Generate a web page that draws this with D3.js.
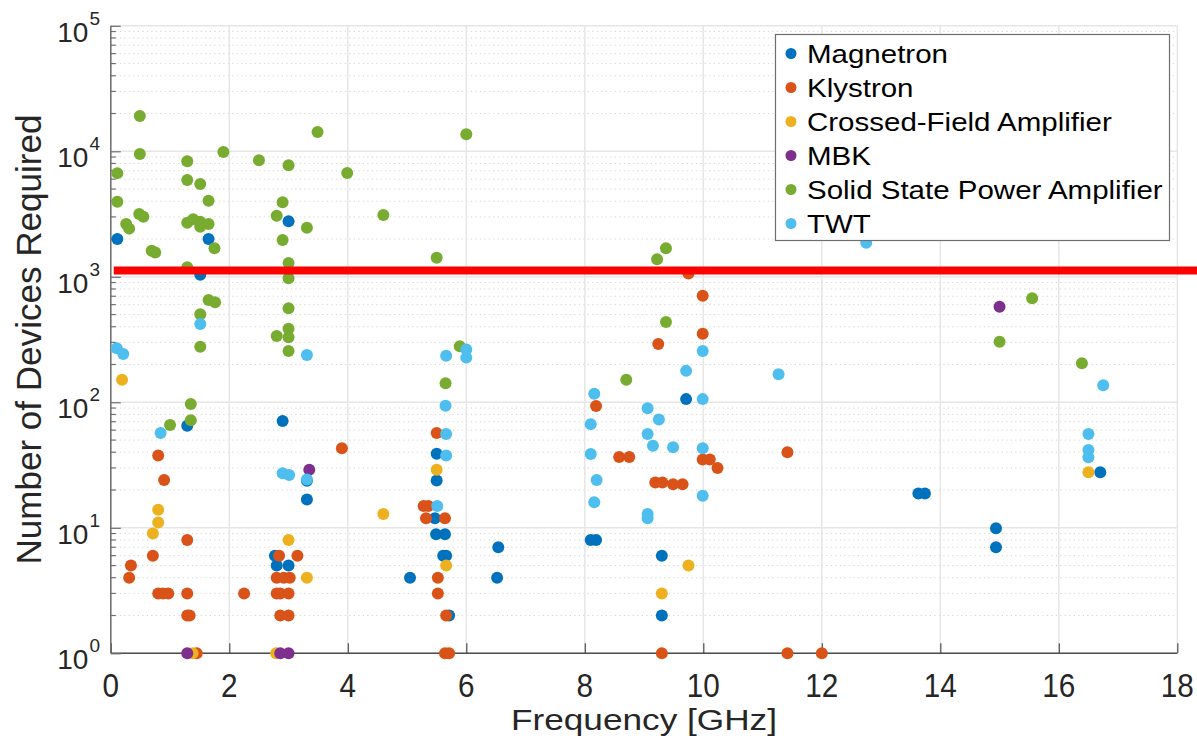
<!DOCTYPE html>
<html>
<head>
<meta charset="utf-8">
<script src="https://cdn.jsdelivr.net/npm/d3@7"></script>
<style>
  html, body { margin: 0; padding: 0; background: #fff; }
  svg { display: block; }
  text { font-family: "Liberation Sans", Arial, Helvetica, sans-serif; fill: #262626; }
</style>
</head>
<body>
<svg id="chart" width="1197" height="739"></svg>
<script>
// ---- Data (frequency GHz, number of devices) ----
const seriesNames = ["Magnetron", "Klystron", "Crossed-Field Amplifier", "MBK", "Solid State Power Amplifier", "TWT"];
const seriesColors = ["#0072BD", "#D95319", "#EDB120", "#7E2F8E", "#77AC30", "#4DBEEE"];

const magnetron = [
  [0.11,2000],[1.65,2000],[3.0,2770],[1.51,1040],[1.29,65],[2.90,71],[3.31,23.7],[3.31,16.8],
  [2.77,6],[2.80,5],[3.0,5],[5.50,38.9],[5.50,23.8],[5.47,11.9],[5.49,8.9],[5.64,8.9],
  [6.54,7.0],[5.61,6],[5.66,6],[5.05,4],[6.52,4],[5.71,2],[8.10,8],[8.19,8],[9.71,106],
  [9.30,6],[9.30,2],[16.70,27.7],[13.63,18.8],[13.74,18.8],[14.94,9.9],[14.94,7.0]
];
const klystron = [
  [0.80,37.6],[0.90,24],[3.90,43],[1.29,8],[0.71,6],[0.34,5],[0.31,4],[0.80,3],[0.88,3],[0.97,3],
  [1.29,3],[1.29,2],[1.33,2],[1.45,1],[2.84,6],[3.15,6],[2.80,4],[2.92,4],[3.02,4],
  [2.80,3],[2.86,3],[3.0,3],[2.25,3],[2.86,2],[3.0,2],[9.75,1060],[9.99,707],[9.99,352],
  [9.24,292],[8.19,93.5],[5.50,57],[5.28,14.9],[5.36,14.9],[5.32,11.9],[5.64,11.9],[5.52,4],
  [5.52,3],[5.66,2],[5.64,1],[5.71,1],[8.58,36.7],[8.75,36.7],[9.99,35],[10.11,35],[10.24,30],
  [9.19,23],[9.31,23],[9.49,22.2],[9.65,22.2],[9.30,1],[11.42,40],[11.42,1],[12.0,1]
];
const crossedField = [
  [0.19,151],[4.60,12.9],[0.80,13.9],[0.80,11],[0.71,9],[3.0,8],[3.31,4],[5.50,29],[5.66,5],
  [9.75,5],[9.30,3],[16.5,27.7],[1.38,1],[2.79,1]
];
const mbk = [
  [3.35,29],[1.29,1],[2.86,1],[3.0,1],[15.0,578]
];
const sspa = [
  [0.49,19100],[0.49,9500],[0.11,6700],[0.11,3960],[0.48,3160],[0.55,3010],[0.26,2630],[0.31,2420],
  [0.69,1610],[0.75,1560],[1.29,8320],[1.29,5900],[1.51,5490],[1.65,4040],[1.29,2700],[1.39,2870],
  [1.51,2750],[1.51,2510],[1.65,2640],[1.75,1690],[1.29,1190],[1.65,653],[1.76,626],[1.51,502],
  [1.90,9860],[2.50,8480],[3.00,7730],[3.49,14260],[3.99,6720],[4.60,3110],[2.90,3920],[2.80,3070],
  [3.31,2460],[2.90,1963],[3.00,1290],[3.00,973],[3.00,561],[3.00,386],[2.80,338],[3.00,330],
  [3.00,256],[1.51,277],[1.35,97],[1.35,72],[1.00,66],[6.00,13650],[5.50,1420],[9.37,1690],
  [9.22,1380],[9.37,436],[8.70,151],[5.89,280],[5.65,142],[15.55,674],[15.0,304],[16.39,205]
];
const twt = [
  [0.10,269],[0.21,243],[1.51,421],[3.31,238],[0.84,57],[2.90,27.2],[3.01,26.3],[3.31,24.3],
  [5.66,235],[6.0,263],[6.0,227],[5.65,94],[5.66,56],[5.66,37.6],[5.51,14.9],[8.16,117],
  [8.10,67],[8.10,38.7],[8.20,24],[8.16,16],[9.06,89.6],[9.25,73],[9.06,56],[9.15,45],
  [9.49,43.8],[9.99,43],[9.99,18],[9.06,12.9],[9.06,11.9],[9.71,178],[9.99,256],[9.99,106],
  [11.27,167],[12.75,1870],[16.75,137],[16.5,56],[16.5,41.7],[16.5,36.5]
];
const allSeries = [magnetron, klystron, crossedField, mbk, sspa, twt];

const xTicks = [0,2,4,6,8,10,12,14,16,18];
const yDecades = [0,1,2,3,4,5];
const limitValue = 1120;          // red threshold line
const limitRange = [0.05, 18.35]; // extent of threshold line (GHz)

// ---- Layout ----
const svg = d3.select("#chart");
const x = d3.scaleLinear().domain([0, 18]).range([110.8, 1177.3]);
const y = d3.scaleLog().domain([1, 1e5]).range([653.3, 25.8]);

const grid = svg.append("g");
// minor y grid (dotted)
const minorVals = [];
yDecades.slice(0, -1).forEach(d => { for (let m = 2; m <= 9; m++) minorVals.push(m * Math.pow(10, d)); });
grid.selectAll(".minor").data(minorVals).enter().append("line")
  .attr("x1", x(0)).attr("x2", x(18))
  .attr("y1", d => y(d)).attr("y2", d => y(d))
  .attr("stroke", "#d4d4d4").attr("stroke-width", 1).attr("stroke-dasharray", "1.2,3.3");
// major grid
grid.selectAll(".majy").data(yDecades.map(d => Math.pow(10, d))).enter().append("line")
  .attr("x1", x(0)).attr("x2", x(18))
  .attr("y1", d => y(d)).attr("y2", d => y(d))
  .attr("stroke", "#e6e6e6").attr("stroke-width", 1.5);
grid.selectAll(".majx").data(xTicks).enter().append("line")
  .attr("x1", d => x(d)).attr("x2", d => x(d))
  .attr("y1", y(1)).attr("y2", y(1e5))
  .attr("stroke", "#e6e6e6").attr("stroke-width", 1.5);

// axes
const axisColor = "#4d4d4d";
const xAxis = d3.axisBottom(x).tickValues(xTicks).tickSize(-10).tickFormat("");
const gx = svg.append("g").attr("transform", `translate(0,${y(1)})`).call(xAxis);
gx.select(".domain").attr("stroke", axisColor).attr("stroke-width", 1.5).attr("d", `M${x(0)},0H${x(18)}`);
gx.selectAll(".tick line").attr("stroke", axisColor).attr("stroke-width", 1.2);

const yAxis = d3.axisLeft(y).tickValues(yDecades.map(d => Math.pow(10, d))).tickSize(-10).tickFormat("");
const gy = svg.append("g").attr("transform", `translate(${x(0)},0)`).call(yAxis);
gy.select(".domain").attr("stroke", "#6e6e6e").attr("stroke-width", 1.5).attr("d", `M0,${y(1)}V${y(1e5)}`);
gy.selectAll(".tick line").attr("stroke", "#6e6e6e").attr("stroke-width", 1.2);
// minor y ticks
svg.append("g").selectAll("line").data(minorVals).enter().append("line")
  .attr("x1", x(0)).attr("x2", x(0) + 5)
  .attr("y1", d => y(d)).attr("y2", d => y(d))
  .attr("stroke", "#6e6e6e").attr("stroke-width", 1.2);

// tick labels
svg.append("g").selectAll("text").data(xTicks).enter().append("text")
  .attr("transform", d => `translate(${x(d)},697) scale(0.9,1)`)
  .attr("text-anchor", "middle").attr("font-size", 33)
  .text(d => d);

const yl = svg.append("g").selectAll("text").data(yDecades).enter().append("text")
  .attr("x", 100).attr("y", d => y(Math.pow(10, d)) + 16)
  .attr("text-anchor", "end").attr("font-size", 28);
yl.append("tspan").text("10");
yl.append("tspan").attr("font-size", 19).attr("dy", -17).attr("dx", 1).text(d => d);

// axis titles
svg.append("text")
  .attr("x", 644).attr("y", 730).attr("text-anchor", "middle")
  .attr("font-size", 29).attr("textLength", 266).attr("lengthAdjust", "spacingAndGlyphs")
  .text("Frequency [GHz]");
svg.append("text")
  .attr("transform", `translate(41,${(y(1) + y(1e5)) / 2}) rotate(-90)`)
  .attr("text-anchor", "middle").attr("font-size", 35)
  .attr("textLength", 450).attr("lengthAdjust", "spacingAndGlyphs")
  .text("Number of Devices Required");

// points
const pts = svg.append("g");
allSeries.forEach((s, i) => {
  pts.append("g").selectAll("circle").data(s).enter().append("circle")
    .attr("cx", d => x(d[0])).attr("cy", d => y(d[1])).attr("r", 6)
    .attr("fill", seriesColors[i]);
});

// red threshold line
svg.append("line")
  .attr("x1", x(limitRange[0])).attr("x2", x(limitRange[1]))
  .attr("y1", y(limitValue)).attr("y2", y(limitValue))
  .attr("stroke", "#ff0000").attr("stroke-width", 8);

// legend
const lg = svg.append("g");
lg.append("rect").attr("x", 775.5).attr("y", 34.5).attr("width", 394).attr("height", 206)
  .attr("fill", "#fff").attr("stroke", "#6e6e6e").attr("stroke-width", 1.2);
const rows = lg.selectAll(".row").data(seriesNames).enter().append("g")
  .attr("transform", (d, i) => `translate(0,${53.5 + i * 34})`);
rows.append("circle").attr("cx", 791).attr("cy", 0).attr("r", 5.5)
  .attr("fill", (d, i) => seriesColors[i]);
rows.append("g").attr("transform", "translate(807,0) scale(1.18,1)")
  .append("text").attr("x", 0).attr("y", 9).attr("font-size", 25)
  .style("fill", "#000").text(d => d);
</script>
</body>
</html>
